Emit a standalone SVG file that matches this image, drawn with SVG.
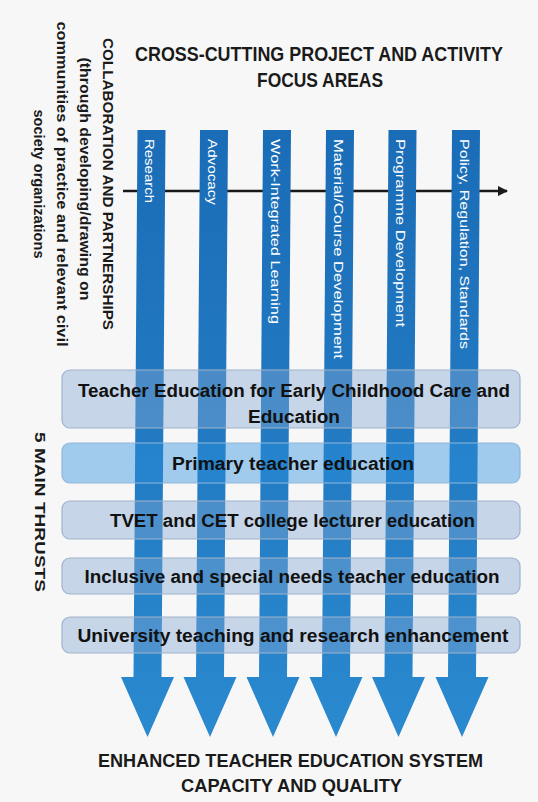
<svg xmlns="http://www.w3.org/2000/svg" width="538" height="802" viewBox="0 0 538 802">
<defs>
<linearGradient id="barGrad" gradientUnits="userSpaceOnUse" x1="0" y1="130" x2="0" y2="737">
<stop offset="0" stop-color="#1a6cb6"/>
<stop offset="1" stop-color="#2a89cf"/>
</linearGradient>
<marker id="ah" viewBox="0 0 10 10" refX="9" refY="5" markerWidth="4" markerHeight="4" orient="auto" markerUnits="strokeWidth">
<path d="M0,0 L10,5 L0,10 z" fill="#1a1a1a"/>
</marker>
<style>
.bar{fill:url(#barGrad);}
.lbl{font-family:"Liberation Sans",Arial,sans-serif;font-size:13px;fill:#ffffff;}
.box{fill:#84a7d2;fill-opacity:0.42;stroke:#9fb3cc;stroke-width:1.2;}
.box2{fill:#2a8ede;fill-opacity:0.42;stroke:#8fb7dc;stroke-width:1.2;}
.bt{font-family:"Liberation Sans",Arial,sans-serif;font-weight:bold;font-size:18px;fill:#111111;text-anchor:middle;}
.hd{font-family:"Liberation Sans",Arial,sans-serif;font-weight:bold;fill:#1a1a1a;text-anchor:middle;}
</style>
</defs>
<rect x="0" y="0" width="538" height="802" fill="#f7f7f7"/>

<g id="title">
<text class="hd" font-size="20" x="319" y="61" textLength="368" lengthAdjust="spacingAndGlyphs">CROSS-CUTTING PROJECT AND ACTIVITY</text>
<text class="hd" font-size="20" x="320" y="87" textLength="126" lengthAdjust="spacingAndGlyphs">FOCUS AREAS</text>
</g>

<g id="collaboration">
<text class="hd" font-size="15.5" transform="translate(103,184) rotate(90)" x="0" y="0" textLength="292" lengthAdjust="spacingAndGlyphs">COLLABORATION AND PARTNERSHIPS</text>
<text class="hd" font-size="15.5" transform="translate(80,179) rotate(90)" x="0" y="0" textLength="243" lengthAdjust="spacingAndGlyphs">(through developing/drawing on</text>
<text class="hd" font-size="15.5" transform="translate(57,184) rotate(90)" x="0" y="0" textLength="325" lengthAdjust="spacingAndGlyphs">communities of practice and relevant civil</text>
<text class="hd" font-size="15.5" transform="translate(34,184) rotate(90)" x="0" y="0" textLength="149" lengthAdjust="spacingAndGlyphs">society organizations</text>
</g>

<g id="thrusts-label">
<text class="hd" font-size="14.5" transform="translate(35,512) rotate(90)" x="0" y="0" textLength="160" lengthAdjust="spacingAndGlyphs">5 MAIN THRUSTS</text>
</g>

<g id="connectors">
<line x1="123" y1="191" x2="507" y2="191" stroke="#1a1a1a" stroke-width="2.6" marker-end="url(#ah)"/>
<polygon class="bar" points="137.5,130 165.5,130 161.5,677 174,677 147.5,737 121,677 133.5,677"/>
<polygon class="bar" points="200,130 228,130 224,677 236.5,677 210,737 183.5,677 196,677"/>
<polygon class="bar" points="263,130 291,130 287,677 299.5,677 273,737 246.5,677 259,677"/>
<polygon class="bar" points="326,130 354,130 350,677 362.5,677 336,737 309.5,677 322,677"/>
<polygon class="bar" points="388.5,130 416.5,130 412.5,677 425,677 398.5,737 372,677 384.5,677"/>
<polygon class="bar" points="452,130 480,130 476,677 488.5,677 462,737 435.5,677 448,677"/>
</g>

<g id="focus-research"><text class="lbl" transform="translate(145,139) rotate(90)" textLength="64" lengthAdjust="spacingAndGlyphs">Research</text></g>
<g id="focus-advocacy"><text class="lbl" transform="translate(207.5,139) rotate(90)" textLength="66" lengthAdjust="spacingAndGlyphs">Advocacy</text></g>
<g id="focus-wil"><text class="lbl" transform="translate(270.5,139) rotate(90)" textLength="185" lengthAdjust="spacingAndGlyphs">Work-Integrated Learning</text></g>
<g id="focus-material"><text class="lbl" transform="translate(333.5,139) rotate(90)" textLength="220" lengthAdjust="spacingAndGlyphs">Material/Course Development</text></g>
<g id="focus-programme"><text class="lbl" transform="translate(396,139) rotate(90)" textLength="188" lengthAdjust="spacingAndGlyphs">Programme Development</text></g>
<g id="focus-policy"><text class="lbl" transform="translate(459.5,139) rotate(90)" textLength="210" lengthAdjust="spacingAndGlyphs">Policy, Regulation, Standards</text></g>

<g id="thrust-ecce">
<rect class="box" x="62" y="370" width="458" height="58" rx="8"/>
<text class="bt" x="294" y="397" textLength="432" lengthAdjust="spacingAndGlyphs">Teacher Education for Early Childhood Care and</text>
<text class="bt" x="294" y="423" textLength="92" lengthAdjust="spacingAndGlyphs">Education</text>
</g>
<g id="thrust-primary">
<rect class="box2" x="62" y="443" width="458" height="40" rx="8"/>
<text class="bt" x="293" y="470" textLength="242" lengthAdjust="spacingAndGlyphs">Primary teacher education</text>
</g>
<g id="thrust-tvet">
<rect class="box" x="62" y="501" width="458" height="38" rx="8"/>
<text class="bt" x="292.5" y="527" textLength="365" lengthAdjust="spacingAndGlyphs">TVET and CET college lecturer education</text>
</g>
<g id="thrust-inclusive">
<rect class="box" x="62" y="558" width="458" height="36" rx="8"/>
<text class="bt" x="292" y="583" textLength="415" lengthAdjust="spacingAndGlyphs">Inclusive and special needs teacher education</text>
</g>
<g id="thrust-university">
<rect class="box" x="62" y="617" width="458" height="36" rx="8"/>
<text class="bt" x="293" y="642" textLength="431" lengthAdjust="spacingAndGlyphs">University teaching and research enhancement</text>
</g>

<g id="outcome">
<text class="hd" font-size="18.5" x="290.5" y="767" textLength="385" lengthAdjust="spacingAndGlyphs">ENHANCED TEACHER EDUCATION SYSTEM</text>
<text class="hd" font-size="18.5" x="291.5" y="792" textLength="221" lengthAdjust="spacingAndGlyphs">CAPACITY AND QUALITY</text>
</g>
</svg>
